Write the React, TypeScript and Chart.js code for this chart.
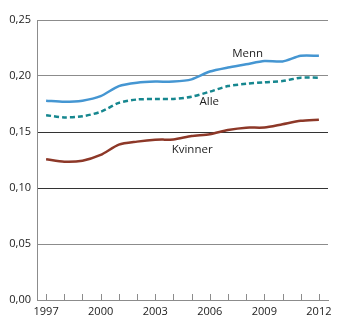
import React, { useEffect, useRef } from "react";
import { Chart, registerables } from "chart.js";

Chart.register(...registerables);

const years = ["1997","1998","1999","2000","2001","2002","2003","2004","2005","2006","2007","2008","2009","2010","2011","2012"];
const menn = [0.178,0.177,0.178,0.182,0.191,0.194,0.195,0.195,0.197,0.204,0.2076,0.2104,0.2134,0.213,0.218,0.218];
const alle = [0.165,0.163,0.164,0.168,0.176,0.179,0.1795,0.1795,0.1815,0.186,0.191,0.193,0.1944,0.1955,0.1985,0.1985];
const kvinner = [0.1256,0.1235,0.1244,0.1295,0.1387,0.1414,0.1431,0.1434,0.1464,0.148,0.1518,0.1539,0.154,0.157,0.16,0.161];
const seriesLabels = [
  { text: "Menn", index: 11.08, value: 0.2196 },
  { text: "Alle", index: 8.97, value: 0.1768 },
  { text: "Kvinner", index: 8.03, value: 0.134 },
];

const FONT = "'Open Sans', 'DejaVu Sans', sans-serif";

const innerTicks = {
  id: "innerTicks",
  beforeDatasetsDraw(chart: any) {
    const xs = chart.scales.x;
    const ctx = chart.ctx;
    const bottom = chart.chartArea.bottom;
    ctx.save();
    ctx.strokeStyle = "#8c8c8c";
    ctx.lineWidth = 1;
    ctx.beginPath();
    for (let i = 0; i < years.length; i++) {
      const x = Math.round(xs.getPixelForValue(i)) + 0.5;
      ctx.moveTo(x, bottom);
      ctx.lineTo(x, bottom - 6);
    }
    ctx.stroke();
    ctx.restore();
  },
};

const seriesText = {
  id: "seriesText",
  afterDatasetsDraw(chart: any) {
    const xs = chart.scales.x;
    const ys = chart.scales.y;
    const ctx = chart.ctx;
    ctx.save();
    ctx.fillStyle = "#222";
    ctx.font = `11.5px ${FONT}`;
    ctx.textAlign = "center";
    ctx.textBaseline = "middle";
    for (const l of seriesLabels) {
      ctx.fillText(l.text, xs.getPixelForValue(l.index), ys.getPixelForValue(l.value));
    }
    ctx.restore();
  },
};

export default function App() {
  const ref = useRef<HTMLCanvasElement | null>(null);
  useEffect(() => {
    document.body.style.margin = "0";
    if (!ref.current) return;
    const chart = new Chart(ref.current, {
      type: "line",
      data: {
        labels: years,
        datasets: [
          { label: "Menn", data: menn, borderColor: "#4596d2", borderWidth: 2.5, pointRadius: 0, tension: 0.25, fill: false },
          { label: "Alle", data: alle, borderColor: "#16878f", borderWidth: 2.5, borderDash: [5, 3], pointRadius: 0, tension: 0.25, fill: false },
          { label: "Kvinner", data: kvinner, borderColor: "#8d3828", borderWidth: 2.5, pointRadius: 0, tension: 0.25, fill: false },
        ],
      },
      options: {
        animation: false,
        responsive: false,
        devicePixelRatio: 1,
        layout: { padding: { top: 20, right: 22, left: 0, bottom: 0 } },
        plugins: { legend: { display: false }, tooltip: { enabled: false } },
        scales: {
          x: {
            type: "category",
            offset: true,
            grid: { display: false, drawTicks: false },
            border: { display: true, color: "#8c8c8c", width: 1 },
            ticks: {
              autoSkip: false,
              maxRotation: 0,
              padding: 5,
              color: "#222",
              font: { family: FONT, size: 11 },
              callback: (v: any, i: number) => (i % 3 === 0 ? years[i] : ""),
            },
            afterFit: (s: any) => { s.height = 24; },
          },
          y: {
            min: 0,
            max: 0.25,
            grid: {
              drawTicks: false,
              color: (c: any) => {
                const v = c.tick ? c.tick.value : 0;
                return Math.abs(v - 0.15) < 1e-6 || Math.abs(v - 0.1) < 1e-6 ? "#333" : "#8c8c8c";
              },
            },
            border: { display: true, color: "#8c8c8c", width: 1 },
            ticks: {
              stepSize: 0.05,
              padding: 6,
              color: "#222",
              font: { family: FONT, size: 11 },
              callback: (v: any) => Number(v).toFixed(2).replace(".", ","),
            },
            afterFit: (s: any) => { s.width = 37; },
          },
        },
      },
      plugins: [innerTicks, seriesText],
    });
    return () => chart.destroy();
  }, []);
  return (
    <div style={{ position: "absolute", left: 0, top: 0, width: 350, height: 324, background: "#fff" }}>
      <canvas ref={ref} width={350} height={324} />
    </div>
  );
}
